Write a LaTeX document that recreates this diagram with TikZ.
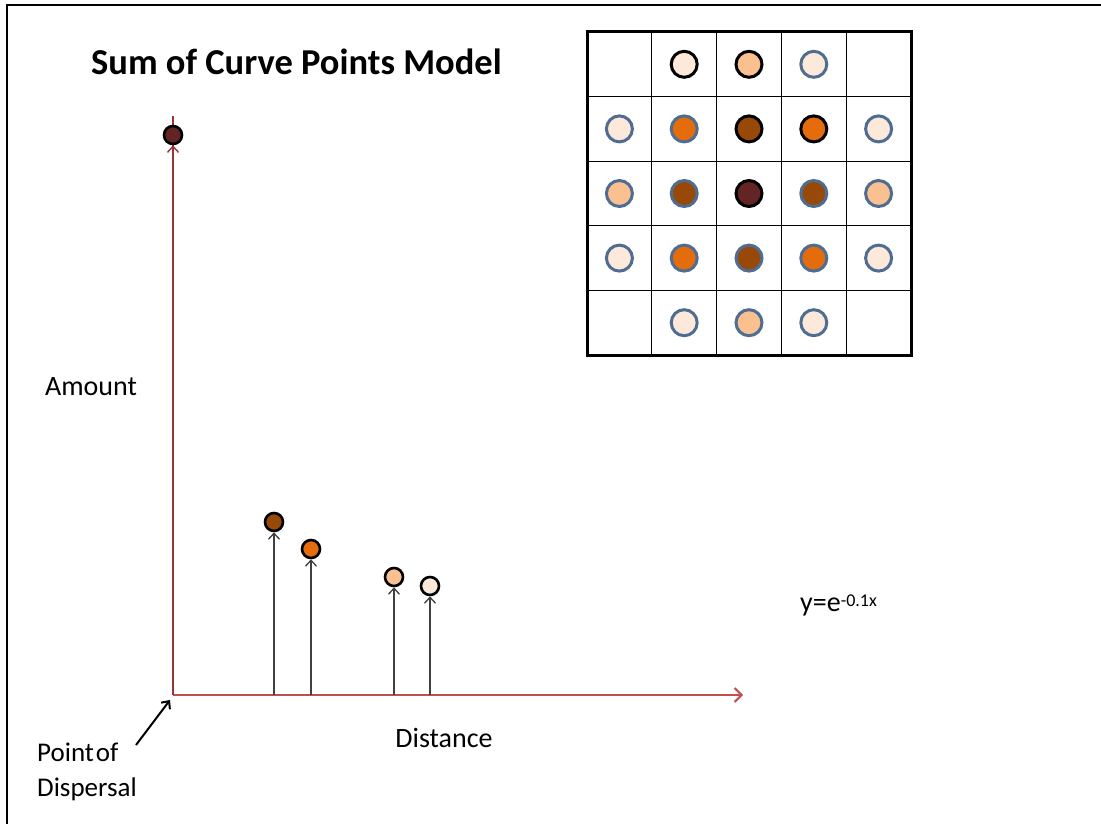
\documentclass[tikz,border=0pt]{standalone}
\usepackage{fontspec}
\setmainfont{Carlito}
\usetikzlibrary{arrows.meta}
\definecolor{maroon}{HTML}{632523}
\definecolor{brownc}{HTML}{984807}
\definecolor{orangec}{HTML}{E46C0A}
\definecolor{lightor}{HTML}{FAC090}
\definecolor{paleor}{HTML}{FDE9D9}
\definecolor{bluebd}{HTML}{4F6D92}
\definecolor{axisred}{HTML}{C0504D}
\definecolor{axisdark}{HTML}{953735}
\definecolor{stemgrey}{HTML}{404040}
\tikzset{
  dot/.style={circle,draw=black,line width=2.6,minimum size=18,inner sep=0},
  gdot/.style={circle,line width=3,minimum size=26,inner sep=0},
  bk/.style={draw=black},
  bl/.style={draw=bluebd},
  stem/.style={draw=stemgrey,line width=1.3,-{Straight Barb[length=6,width=11,line width=1.3]}},
  lbl/.style={font=\fontsize{28}{32}\selectfont,inner sep=0}
}
\begin{document}
\begin{tikzpicture}[x=1pt,y=-1pt]
\useasboundingbox (0,0) rectangle (1101,824);
% frame (top and left)
\draw[line width=1.5] (7,824) -- (7,5) -- (1101,5);
% title
\node[font=\fontsize{36.5}{40}\selectfont\bfseries,anchor=west,inner sep=0] (title) at (91,62) {Sum of Curve Points Model};
% axes
\coordinate (O) at (173,695);
\coordinate (ytop) at (173,116);
\coordinate (xend) at (743,695);
\draw[axisdark,line width=1.6] (O) -- (ytop);
\draw[axisred,line width=2,-{Straight Barb[length=7,width=14,line width=2]}] (O) -- (xend);
% points
\node[dot,fill=maroon] (p0) at (173,135) {};
\node[dot,fill=brownc] (p1) at (274,522) {};
\node[dot,fill=orangec] (p2) at (311,549) {};
\node[dot,fill=lightor] (p3) at (394,577) {};
\node[dot,fill=paleor] (p4) at (430,586) {};
\coordinate (b1) at (274,695);
\coordinate (b2) at (311,695);
\coordinate (b3) at (394,695);
\coordinate (b4) at (430,695);
\draw[axisdark,line width=1.6,-{Straight Barb[length=6,width=11,line width=1.4]}] (O) -- (p0.south);
\draw[stem] (b1) -- (p1.south);
\draw[stem] (b2) -- (p2.south);
\draw[stem] (b3) -- (p3.south);
\draw[stem] (b4) -- (p4.south);
% labels
\node[lbl] (amount) at (91,387) {Amount};
\node[lbl] (distance) at (444,738) {Distance};
\node[lbl,anchor=north west,align=left,font=\fontsize{27}{35}\selectfont] (pod) at (37,743) {Point\kern2pt of\\Dispersal};
\coordinate (podarrow) at (136,745);
\draw[line width=2,-{Straight Barb[length=6,width=11,line width=2]}] (podarrow) -- (170,700);
\node[lbl,anchor=west] (eq) at (800,605) {y=e\raisebox{5pt}{\fontsize{18}{20}\selectfont -0.1x}};
% grid
\foreach \i in {1,2,3,4} {
  \draw[line width=1] (587+64.8*\i,32) -- (587+64.8*\i,355);
  \draw[line width=1] (587,32+64.6*\i) -- (911,32+64.6*\i);
}
\draw[line width=3] (587,32) rectangle (911,355);
\newcommand{\gx}[1]{619.4+64.8*#1}
\newcommand{\gy}[1]{64.3+64.6*#1}
% row 0
\node[gdot,bk,fill=paleor] (g01) at (\gx{1},\gy{0}) {};
\node[gdot,bk,fill=lightor] (g02) at (\gx{2},\gy{0}) {};
\node[gdot,bl,fill=paleor] (g03) at (\gx{3},\gy{0}) {};
% row 1
\node[gdot,bl,fill=paleor] (g10) at (\gx{0},\gy{1}) {};
\node[gdot,bl,fill=orangec] (g11) at (\gx{1},\gy{1}) {};
\node[gdot,bk,fill=brownc] (g12) at (\gx{2},\gy{1}) {};
\node[gdot,bk,fill=orangec] (g13) at (\gx{3},\gy{1}) {};
\node[gdot,bl,fill=paleor] (g14) at (\gx{4},\gy{1}) {};
% row 2
\node[gdot,bl,fill=lightor] (g20) at (\gx{0},\gy{2}) {};
\node[gdot,bl,fill=brownc] (g21) at (\gx{1},\gy{2}) {};
\node[gdot,bk,fill=maroon] (g22) at (\gx{2},\gy{2}) {};
\node[gdot,bl,fill=brownc] (g23) at (\gx{3},\gy{2}) {};
\node[gdot,bl,fill=lightor] (g24) at (\gx{4},\gy{2}) {};
% row 3
\node[gdot,bl,fill=paleor] (g30) at (\gx{0},\gy{3}) {};
\node[gdot,bl,fill=orangec] (g31) at (\gx{1},\gy{3}) {};
\node[gdot,bl,fill=brownc] (g32) at (\gx{2},\gy{3}) {};
\node[gdot,bl,fill=orangec] (g33) at (\gx{3},\gy{3}) {};
\node[gdot,bl,fill=paleor] (g34) at (\gx{4},\gy{3}) {};
% row 4
\node[gdot,bl,fill=paleor] (g41) at (\gx{1},\gy{4}) {};
\node[gdot,bl,fill=lightor] (g42) at (\gx{2},\gy{4}) {};
\node[gdot,bl,fill=paleor] (g43) at (\gx{3},\gy{4}) {};
\end{tikzpicture}
\end{document}
